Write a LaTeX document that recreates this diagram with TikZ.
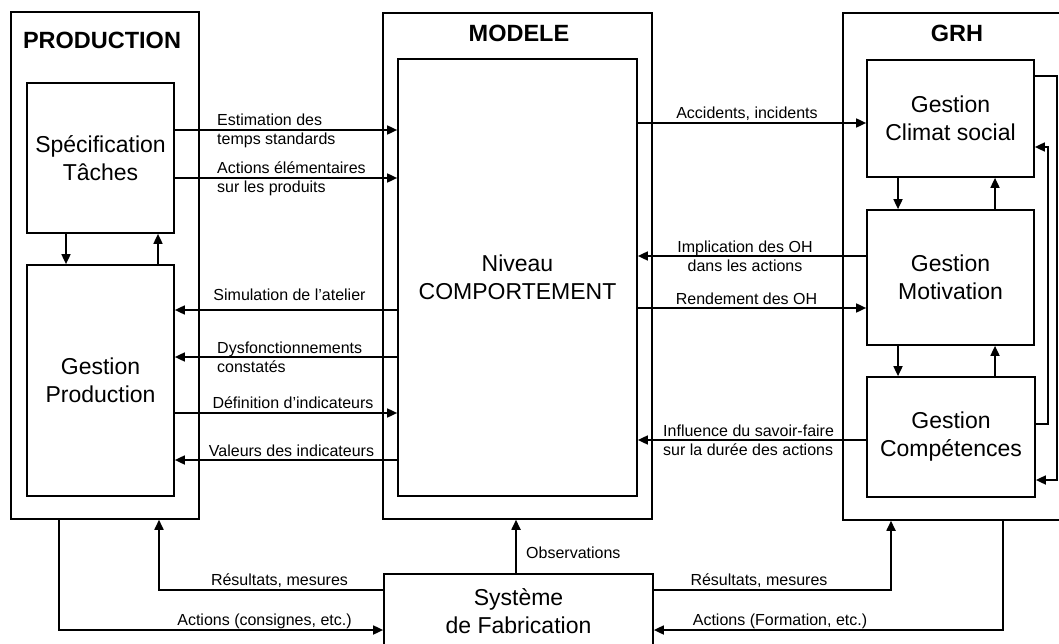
\documentclass[tikz,border=0pt]{standalone}
\usepackage{fontspec}
\setmainfont{Liberation Sans}
\usetikzlibrary{arrows.meta}
\begin{document}
\begin{tikzpicture}[x=1pt,y=-1pt,
  box/.style={draw, line width=1.7pt, inner sep=0pt, align=center, font=\fontsize{23}{28}\selectfont},
  frame/.style={draw, line width=1.5pt, inner sep=0pt},
  ttl/.style={font=\bfseries\fontsize{23.5}{28}\selectfont, inner sep=0pt},
  lbl/.style={font=\fontsize{16}{19}\selectfont, inner sep=0pt},
  arr/.style={line width=1.7pt, -{Triangle[length=10pt,width=9pt]}},
  ln/.style={line width=1.7pt}]
\useasboundingbox (0,0) rectangle (1059,644);

% outer frames
\node[frame, minimum width=188pt, minimum height=507pt] (prod) at (105,265.5) {};
\node[frame, minimum width=269pt, minimum height=506pt] (modele) at (517.5,266) {};
\node[frame, minimum width=227pt, minimum height=507pt] (grh) at (956.5,266.5) {};

\node[ttl] (tprod) at (102,40) {PRODUCTION};
\node[ttl] (tmod) at (519,33) {MODELE};
\node[ttl] (tgrh) at (957,33) {GRH};

% inner boxes
\node[box, minimum width=147pt, minimum height=150pt] (spec) at (100.5,158) {Spécification\\Tâches};
\node[box, minimum width=147pt, minimum height=231pt] (gprod) at (100.5,380.5) {Gestion\\Production};
\node[box, minimum width=239pt, minimum height=437pt] (niv) at (517.5,277.5) {Niveau\\COMPORTEMENT};
\node[box, minimum width=167pt, minimum height=117pt] (clim) at (950.5,118.5) {Gestion\\Climat social};
\node[box, minimum width=167pt, minimum height=135pt] (motiv) at (950.5,277.5) {Gestion\\Motivation};
\node[box, minimum width=168pt, minimum height=120pt] (comp) at (951,437) {Gestion\\Compétences};
\node[box, minimum width=269pt, minimum height=74pt] (sys) at (518.5,611) {Système\\de Fabrication};

% production internal
\draw[arr] (spec.south -| 66,0) -- (gprod.north -| 66,0);
\draw[arr] (gprod.north -| 158,0) -- (spec.south -| 158,0);

% production <-> modele
\draw[arr] (spec.east |- 0,130) -- (niv.west |- 0,130);
\draw[arr] (spec.east |- 0,178) -- (niv.west |- 0,178);
\draw[arr] (niv.west |- 0,310) -- (gprod.east |- 0,310);
\draw[arr] (niv.west |- 0,357) -- (gprod.east |- 0,357);
\draw[arr] (gprod.east |- 0,413) -- (niv.west |- 0,413);
\draw[arr] (niv.west |- 0,460) -- (gprod.east |- 0,460);

\node[lbl, anchor=west, align=left] (l1) at (217,131) {Estimation des\\temps standards};
\node[lbl, anchor=west, align=left] (l2) at (217,178.5) {Actions élémentaires\\sur les produits};
\node[lbl] (l3) at (289.5,295) {Simulation de l'atelier};
\node[lbl, anchor=west, align=left] (l4) at (217,357.5) {Dysfonctionnements\\constatés};
\node[lbl] (l5) at (293,403) {Définition d'indicateurs};
\node[lbl] (l6) at (291.5,451) {Valeurs des indicateurs};

% modele <-> grh
\draw[arr] (niv.east |- 0,123) -- (clim.west |- 0,123);
\draw[arr] (motiv.west |- 0,256) -- (niv.east |- 0,256);
\draw[arr] (niv.east |- 0,308) -- (motiv.west |- 0,308);
\draw[arr] (comp.west |- 0,440) -- (niv.east |- 0,440);

\node[lbl] (r1) at (747,114) {Accidents, incidents};
\node[lbl, align=center] (r2) at (745,256.5) {Implication des OH\\dans les actions};
\node[lbl] (r3) at (746.5,299) {Rendement des OH};
\node[lbl, anchor=west, align=left] (r4) at (663,440.5) {Influence du savoir-faire\\sur la durée des actions};

% grh internal
\draw[arr] (clim.south -| 898,0) -- (motiv.north -| 898,0);
\draw[arr] (motiv.north -| 995,0) -- (clim.south -| 995,0);
\draw[arr] (motiv.south -| 898,0) -- (comp.north -| 898,0);
\draw[arr] (comp.north -| 995,0) -- (motiv.south -| 995,0);
\coordinate (lpa) at (1057,76);
\coordinate (lpb) at (1057,480);
\draw[arr] (clim.east |- lpa) -- (lpa) -- (lpb) -- (comp.east |- lpb);
\coordinate (lqa) at (1048,424);
\coordinate (lqb) at (1048,147);
\draw[arr] (comp.east |- lqa) -- (lqa) -- (lqb) -- (clim.east |- lqb);

% systeme
\draw[arr] (sys.north -| 516,0) -- (modele.south -| 516,0);
\node[lbl, anchor=west] (obs) at (526,553) {Observations};

\draw[arr] (sys.west |- 0,590) -| (prod.south -| 159,0);
\draw[arr] (prod.south -| 59,0) |- (sys.west |- 0,630);
\draw[arr] (sys.east |- 0,590) -| (grh.south -| 891,0);
\draw[arr] (grh.south -| 1003,0) |- (sys.east |- 0,630);

\node[lbl] (b1) at (279.5,581) {Résultats, mesures};
\node[lbl] (b2) at (264.5,621) {Actions (consignes, etc.)};
\node[lbl] (b3) at (759,581) {Résultats, mesures};
\node[lbl] (b4) at (780,621) {Actions (Formation, etc.)};
\end{tikzpicture}
\end{document}
